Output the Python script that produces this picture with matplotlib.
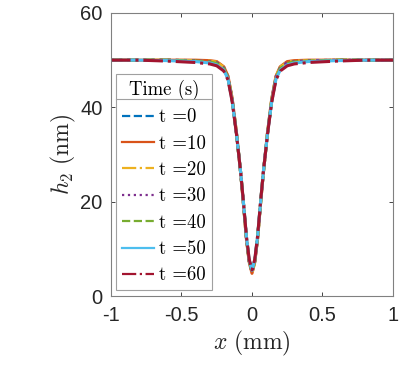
import matplotlib
matplotlib.use("Agg")
import matplotlib.pyplot as plt
from matplotlib.lines import Line2D

plt.rcParams['mathtext.fontset'] = 'cm'
plt.rcParams['font.family'] = ['Liberation Sans', 'DejaVu Sans']

# Data
x = [-1.0, -0.8, -0.6, -0.4, -0.3, -0.25, -0.2, -0.17, -0.14, -0.11, -0.08, -0.06,
     -0.04, -0.02, 0.0, 0.02, 0.04, 0.06, 0.08, 0.11, 0.14, 0.17, 0.2, 0.25, 0.3,
     0.4, 0.6, 0.8, 1.0]

h_t0  = [50.0, 50.0, 50.0, 49.8, 49.6, 49.3, 48.2, 46.3, 41.5, 34.5, 26.0, 19.5,
         12.5, 7.5, 5.2, 7.5, 12.5, 19.5, 26.0, 34.5, 41.5, 46.3, 48.2, 49.3, 49.6,
         49.8, 50.0, 50.0, 50.0]
h_t10 = [50.0, 50.0, 50.0, 50.0, 49.9, 49.7, 48.6, 46.6, 41.8, 34.6, 26.0, 19.3,
         12.2, 7.2, 4.8, 7.2, 12.2, 19.3, 26.0, 34.6, 41.8, 46.6, 48.6, 49.7, 49.9,
         50.0, 50.0, 50.0, 50.0]
h_t20 = [50.0, 50.0, 50.0, 49.9, 49.8, 49.6, 48.5, 46.5, 41.7, 34.6, 26.0, 19.4,
         12.3, 7.3, 4.9, 7.3, 12.3, 19.4, 26.0, 34.6, 41.7, 46.5, 48.5, 49.6, 49.8,
         49.9, 50.0, 50.0, 50.0]
h_t30 = [50.0, 50.0, 50.0, 49.9, 49.7, 49.5, 48.4, 46.4, 41.6, 34.5, 26.0, 19.4,
         12.4, 7.4, 5.0, 7.4, 12.4, 19.4, 26.0, 34.5, 41.6, 46.4, 48.4, 49.5, 49.7,
         49.9, 50.0, 50.0, 50.0]
h_t40 = [50.0, 50.0, 50.0, 49.8, 49.6, 49.3, 48.2, 46.2, 41.4, 34.4, 26.0, 19.5,
         12.5, 7.5, 5.2, 7.5, 12.5, 19.5, 26.0, 34.4, 41.4, 46.2, 48.2, 49.3, 49.6,
         49.8, 50.0, 50.0, 50.0]
h_t50 = [50.0, 50.0, 49.9, 49.7, 49.4, 49.0, 47.9, 46.0, 41.3, 34.4, 26.1, 19.6,
         12.7, 7.7, 5.4, 7.7, 12.7, 19.6, 26.1, 34.4, 41.3, 46.0, 47.9, 49.0, 49.4,
         49.7, 49.9, 50.0, 50.0]
h_t60 = [50.0, 50.0, 49.8, 49.5, 49.2, 48.8, 47.7, 45.8, 41.1, 34.3, 26.1, 19.7,
         12.8, 7.8, 5.5, 7.8, 12.8, 19.7, 26.1, 34.3, 41.1, 45.8, 47.7, 48.8, 49.2,
         49.5, 49.8, 50.0, 50.0]

series = [h_t0, h_t10, h_t20, h_t30, h_t40, h_t50, h_t60]
labels = ['t =0', 't =10', 't =20', 't =30', 't =40', 't =50', 't =60']
colors = ['#0072BD', '#D95319', '#EDB120', '#7E2F8E', '#77AC30', '#4DBEEE', '#A2142F']
styles = ['--', '-', '-.', ':', '--', '-', '-.']

xticks = [-1, -0.5, 0, 0.5, 1]
xticklabels = ['-1', '-0.5', '0', '0.5', '1']
yticks = [0, 20, 40, 60]
yticklabels = ['0', '20', '40', '60']

fig = plt.figure(figsize=(4.07, 3.70), dpi=100)
ax = fig.add_axes([0.2727, 0.2, 0.6929, 0.7649])

for y, lab, c, ls in zip(series, labels, colors, styles):
    ax.plot(x, y, color=c, linestyle=ls, linewidth=2.2, label=lab)

ax.set_xlim(-1, 1)
ax.set_ylim(0, 60)
ax.set_xticks(xticks)
ax.set_xticklabels(xticklabels)
ax.set_yticks(yticks)
ax.set_yticklabels(yticklabels)
ax.tick_params(direction='in', length=3, width=0.6, labelsize=14.5, colors='#262626',
               top=True, right=True)
ax.tick_params(axis='x', pad=7)
ax.tick_params(axis='y', pad=6)
for sp in ax.spines.values():
    sp.set_color('#808080')
    sp.set_linewidth(0.8)

ax.set_xlabel(r'$x\ (\mathrm{mm})$', fontsize=17, color='#262626', labelpad=3)
ax.set_ylabel(r'$h_2\ (\mathrm{nm})$', fontsize=17, color='#262626', labelpad=2)

handles = [Line2D([0], [0], color=c, linestyle=ls, linewidth=1.6) for c, ls in zip(colors, styles)]
leg = ax.legend(handles, labels,
                title='Time (s)', loc='lower left',
                bbox_to_anchor=(0.018, 0.021), borderaxespad=0,
                prop={'family': 'cmr10', 'size': 13.5},
                frameon=True, fancybox=False, framealpha=1,
                edgecolor='#a0a0a0', handlelength=1.7, handletextpad=0.3,
                labelspacing=0.45, borderpad=0.3)
leg.get_title().set_fontfamily('cmr10')
leg.get_title().set_fontsize(13.5)
leg.get_frame().set_linewidth(0.8)

fig.canvas.draw()
r = fig.canvas.get_renderer()
fb = leg.get_frame().get_window_extent(r)
tb = leg.get_title().get_window_extent(r)
ysep = tb.y0 + 1
inv = fig.transFigure.inverted()
(x0f, yf), (x1f, _) = inv.transform([(fb.x0, ysep), (fb.x1, ysep)])
fig.add_artist(Line2D([x0f, x1f], [yf, yf], color='#a0a0a0', linewidth=0.8,
                      transform=fig.transFigure))

fig.savefig('out.png', dpi=100)
